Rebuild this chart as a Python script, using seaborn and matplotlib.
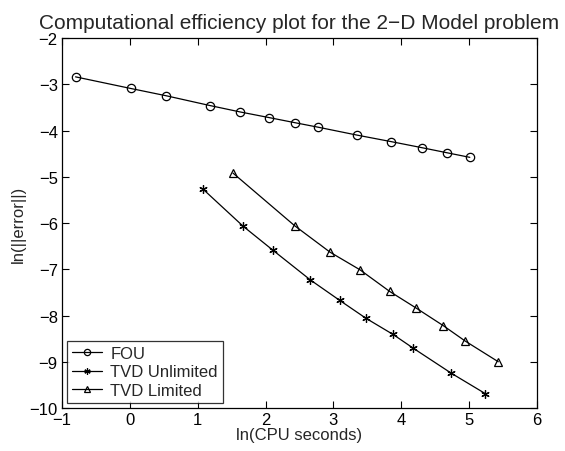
import numpy as np
import pandas as pd
import matplotlib
matplotlib.use("Agg")
import matplotlib.pyplot as plt
import seaborn as sns

fou_x = [-0.80, 0.01, 0.54, 1.18, 1.63, 2.05, 2.43, 2.78, 3.35, 3.85, 4.30, 4.67, 5.01]
fou_y = [-2.84, -3.09, -3.25, -3.46, -3.60, -3.72, -3.83, -3.93, -4.10, -4.24, -4.37, -4.48, -4.58]

tvdu_x = [1.08, 1.67, 2.11, 2.66, 3.09, 3.48, 3.88, 4.18, 4.74, 5.24]
tvdu_y = [-5.27, -6.07, -6.59, -7.23, -7.67, -8.06, -8.41, -8.71, -9.25, -9.69]

tvdl_x = [1.52, 2.43, 2.95, 3.39, 3.83, 4.21, 4.62, 4.94, 5.43]
tvdl_y = [-4.92, -6.06, -6.63, -7.01, -7.48, -7.83, -8.22, -8.55, -9.00]

series = ["FOU", "TVD Unlimited", "TVD Limited"]
xticks = [-1, 0, 1, 2, 3, 4, 5, 6]
yticks = [-10, -9, -8, -7, -6, -5, -4, -3, -2]

frames = {
    series[0]: pd.DataFrame({"x": fou_x, "y": fou_y}),
    series[1]: pd.DataFrame({"x": tvdu_x, "y": tvdu_y}),
    series[2]: pd.DataFrame({"x": tvdl_x, "y": tvdl_y}),
}

sns.set_style("ticks")
plt.rcParams["font.family"] = ["Liberation Sans", "DejaVu Sans"]
plt.rcParams["axes.unicode_minus"] = True

fig = plt.figure(figsize=(5.65, 4.52), dpi=100)
ax = fig.add_axes([0.1097, 0.0951, 0.8407, 0.8186])

markers = {"FOU": "o", "TVD Unlimited": (6, 2, 0), "TVD Limited": "^"}
for name in series:
    sns.lineplot(data=frames[name], x="x", y="y", color="black", sort=False,
                 estimator=None, linewidth=0.9, marker=markers[name],
                 markersize=6, markerfacecolor="none", markeredgecolor="black",
                 markeredgewidth=0.9, ax=ax, label=name)

ax.set_xlim(-1, 6)
ax.set_ylim(-10, -2)
ax.set_xticks(xticks)
ax.set_yticks(yticks)
ax.set_xticklabels([str(t).replace("-", "\u2212") for t in xticks])
ax.set_yticklabels([str(t).replace("-", "\u2212") for t in yticks])
ax.tick_params(direction="in", length=5, width=0.8, top=True, right=True,
               labelsize=12, colors="black", pad=3)
for s in ax.spines.values():
    s.set_linewidth(0.9)
    s.set_color("black")

ax.set_xlabel("ln(CPU seconds)", fontsize=12, labelpad=0)
ax.set_ylabel("ln(||error||)", fontsize=12, labelpad=3)
ax.set_title("Computational efficiency plot for the 2\u2212D Model problem", fontsize=15, pad=7)

leg = ax.legend(loc="lower left", fontsize=12, frameon=True, fancybox=False,
                edgecolor="black", borderaxespad=0.3, handlelength=1.8,
                labelspacing=0.22, borderpad=0.3, handletextpad=0.5,
                markerscale=0.75)
leg.get_frame().set_linewidth(0.9)

fig.savefig("out.png", dpi=100)
